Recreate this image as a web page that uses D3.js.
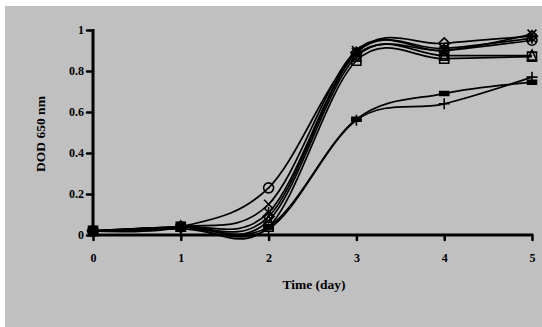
<!DOCTYPE html>
<html>
<head>
<meta charset="utf-8">
<script src="https://cdn.jsdelivr.net/npm/d3@7"></script>
<style>
  body { margin: 0; background: #fff; }
  text { font-family: "Liberation Serif", "Times New Roman", serif; font-weight: bold; fill: #000; }
</style>
</head>
<body>
<div id="main"></div>
<script>
'use strict';

// days sampled
var days = [0, 1, 2, 3, 4, 5];

// OD readings, one array per culture (marker shape in name)
var diamond  = [0.02, 0.04, 0.09, 0.89, 0.935, 0.97];
var square   = [0.02, 0.04, 0.04, 0.85, 0.86, 0.87];
var triangle = [0.02, 0.04, 0.07, 0.87, 0.875, 0.875];
var cross    = [0.02, 0.04, 0.15, 0.90, 0.90, 0.98];
var star     = [0.02, 0.04, 0.11, 0.89, 0.91, 0.96];
var circle   = [0.02, 0.04, 0.23, 0.88, 0.90, 0.95];
var plus     = [0.02, 0.03, 0.03, 0.56, 0.64, 0.77];
var dash     = [0.02, 0.04, 0.04, 0.565, 0.69, 0.745];

var yTicks = [0, 0.2, 0.4, 0.6, 0.8, 1];
var yTickLabels = ['0', '0.2', '0.4', '0.6', '0.8', '1'];
var xTickLabels = ['0', '1', '2', '3', '4', '5'];

var series = [
  { name: 'diamond', values: diamond },
  { name: 'square', values: square },
  { name: 'triangle', values: triangle },
  { name: 'cross', values: cross },
  { name: 'star', values: star },
  { name: 'circle', values: circle },
  { name: 'plus', values: plus },
  { name: 'dash', values: dash }
];

var width = 542, height = 327;
var svg = d3.select('#main').append('svg')
  .attr('width', width).attr('height', height);

// gray plot area background
svg.append('rect')
  .attr('x', 5).attr('y', 6)
  .attr('width', width - 5).attr('height', height - 6)
  .attr('fill', '#c0c0c0');

var x = d3.scaleLinear().domain([0, 5]).range([93, 532]);
var y = d3.scaleLinear().domain([0, 1]).range([235, 30]);

// y axis
var yAxis = svg.append('g').attr('transform', 'translate(' + x(0) + ',0)')
  .call(d3.axisLeft(y).tickValues(yTicks).tickSize(6).tickPadding(3)
    .tickFormat(function(d, i) { return yTickLabels[i]; }));
yAxis.select('.domain').attr('stroke-width', 3).attr('d', 'M0,' + (y(1) - 1) + 'V' + (y(0) + 1));
yAxis.selectAll('.tick line').attr('stroke-width', 2.5).attr('stroke-linecap', 'round');
yAxis.selectAll('text').style('font-size', '12px').style('font-family', '"Liberation Serif", serif');

// x axis
var xAxis = svg.append('g').attr('transform', 'translate(0,' + y(0) + ')')
  .call(d3.axisBottom(x).tickValues(days).tickSize(5).tickPadding(13)
    .tickFormat(function(d, i) { return xTickLabels[i]; }));
xAxis.select('.domain').attr('stroke-width', 3.2).attr('d', 'M' + (x(0) - 1) + ',0H' + (x(5) + 1));
xAxis.selectAll('.tick line').attr('stroke-width', 2.5).attr('stroke-linecap', 'round');
xAxis.selectAll('text').style('font-size', '12px').style('font-family', '"Liberation Serif", serif');

// titles
svg.append('text')
  .attr('x', 314).attr('y', 289)
  .attr('text-anchor', 'middle')
  .style('font-size', '13.5px')
  .text('Time (day)');

svg.append('text')
  .attr('transform', 'translate(45,134) rotate(-90)')
  .attr('text-anchor', 'middle')
  .style('font-size', '13.5px')
  .text('DOD 650 nm');

// smoothed lines like the spreadsheet's
var line = d3.line()
  .x(function(d, i) { return x(days[i]); })
  .y(function(d) { return y(d); })
  .curve(d3.curveCardinal.tension(0));

svg.append('g').selectAll('path')
  .data(series).enter()
  .append('path')
  .attr('d', function(s) { return line(s.values); })
  .attr('fill', 'none')
  .attr('stroke', '#000')
  .attr('stroke-width', 1.7);

function markerPath(name) {
  var s = 4.5;
  switch (name) {
    case 'diamond': return 'M0,' + (-s - 1) + 'L' + (s + 1) + ',0L0,' + (s + 1) + 'L' + (-s - 1) + ',0Z';
    case 'square': return 'M' + -s + ',' + -s + 'H' + s + 'V' + s + 'H' + -s + 'Z';
    case 'triangle': return 'M0,' + (-s - 1) + 'L' + s + ',' + s + 'L' + -s + ',' + s + 'Z';
    case 'cross': return 'M' + -s + ',' + -s + 'L' + s + ',' + s + 'M' + s + ',' + -s + 'L' + -s + ',' + s;
    case 'star': return 'M' + -s + ',' + -s + 'L' + s + ',' + s + 'M' + s + ',' + -s + 'L' + -s + ',' + s + 'M0,' + (-s - 1) + 'V' + (s + 1);
    case 'circle': return d3.arc()({ innerRadius: 0, outerRadius: s + 0.5, startAngle: 0, endAngle: 2 * Math.PI });
    case 'plus': return 'M' + (-s - 1) + ',0H' + (s + 1) + 'M0,' + (-s - 1) + 'V' + (s + 1);
    case 'dash': return 'M' + -s + ',-2H' + s + 'V2H' + -s + 'Z';
  }
}

series.forEach(function(s) {
  svg.append('g').selectAll('path')
    .data(s.values).enter()
    .append('path')
    .attr('transform', function(d, i) { return 'translate(' + x(days[i]) + ',' + y(d) + ')'; })
    .attr('d', markerPath(s.name))
    .attr('fill', s.name === 'dash' ? '#000' : 'none')
    .attr('stroke', '#000')
    .attr('stroke-width', 1.6);
});
</script>
</body>
</html>
